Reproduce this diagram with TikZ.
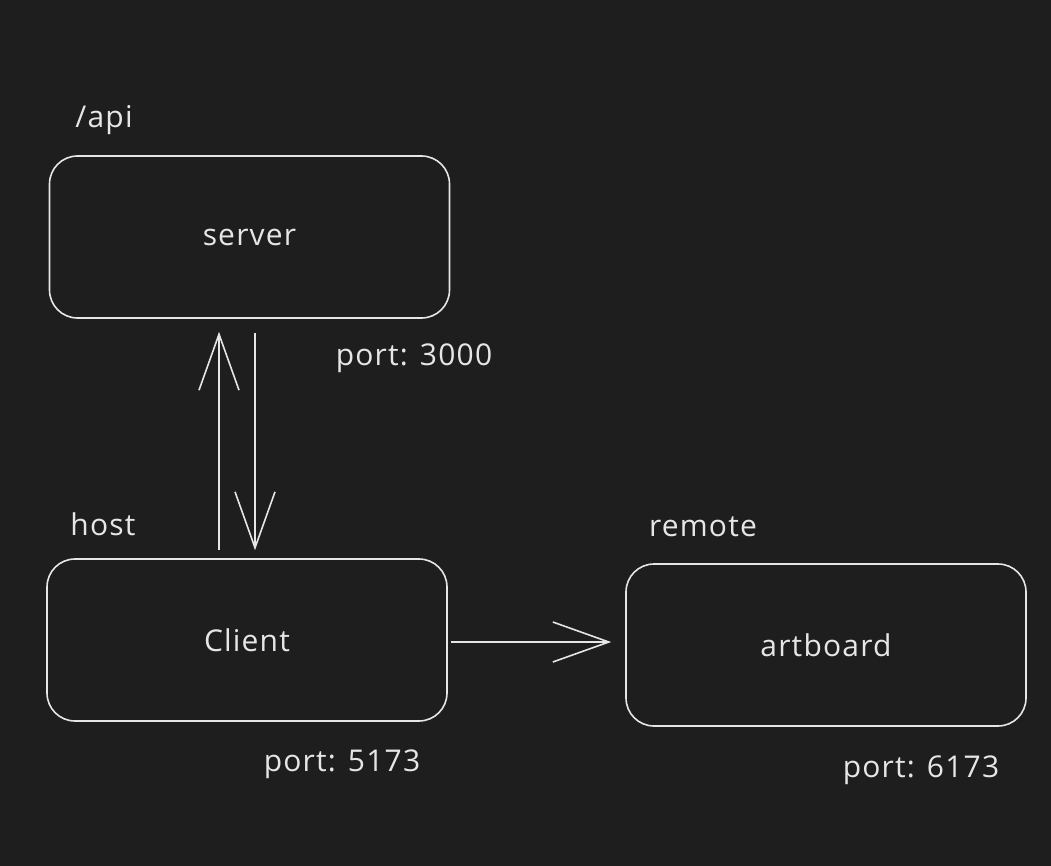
\documentclass[tikz,border=0pt]{standalone}
\usepackage{fontspec}
\setmainfont{Open Sans}[LetterSpace=4]
\usetikzlibrary{arrows.meta,positioning}

\definecolor{canvasdark}{HTML}{1E1E1E}
\definecolor{chalk}{HTML}{E6E6E6}

\tikzset{
    sketchbox/.style={draw=chalk, line width=1.6pt, rounded corners=28pt,
        minimum width=400pt, minimum height=162pt, text=chalk,
        font=\fontsize{30}{36}\selectfont},
    tag/.style={text=chalk, font=\fontsize{30}{36}\selectfont},
    flow/.style={draw=chalk, line width=1.6pt,
        -{Straight Barb[length=56pt, width=40pt, line width=1.6pt]}}
}

\begin{document}
\begin{tikzpicture}[x=1pt, y=-1pt]

            % Canvas
            \fill[canvasdark] (0,0) rectangle (1051,866);
            \useasboundingbox (0,0) rectangle (1051,866);

            % --------------------------------------------------
            % Boxes
            % --------------------------------------------------
            \node[sketchbox] (server)   at (249.5,237) {server};
            \node[sketchbox] (client)   at (247,640)   {Client};
            \node[sketchbox] (artboard) at (826,645)   {artboard};

            % Labels
            \node[tag] (apilabel)    at (104,120) {/api};
            \node[tag] (hostlabel)   at (103,524) {host};
            \node[tag] (remotelabel) at (703,527) {remote};
            \node[tag] (serverport)  at (414,358) {port: 3000};
            \node[tag] (clientport)  at (342,764) {port: 5173};
            \node[tag] (remoteport)  at (921,770) {port: 6173};

            % --------------------------------------------------
            % Connectors
            % --------------------------------------------------
            \draw[flow, shorten <=8pt, shorten >=13pt]
                ([xshift=-28pt]client.north) -- ([xshift=-28pt]client.north |- server.south);
            \draw[flow, shorten <=14pt, shorten >=8pt]
                ([xshift=5.5pt]server.south) -- ([xshift=5.5pt]server.south |- client.north);
            \draw[flow, shorten <=3pt, shorten >=14pt]
                ([yshift=-2pt]client.east) -- ([yshift=-2pt]client.east -| artboard.west);

\end{tikzpicture}
\end{document}
